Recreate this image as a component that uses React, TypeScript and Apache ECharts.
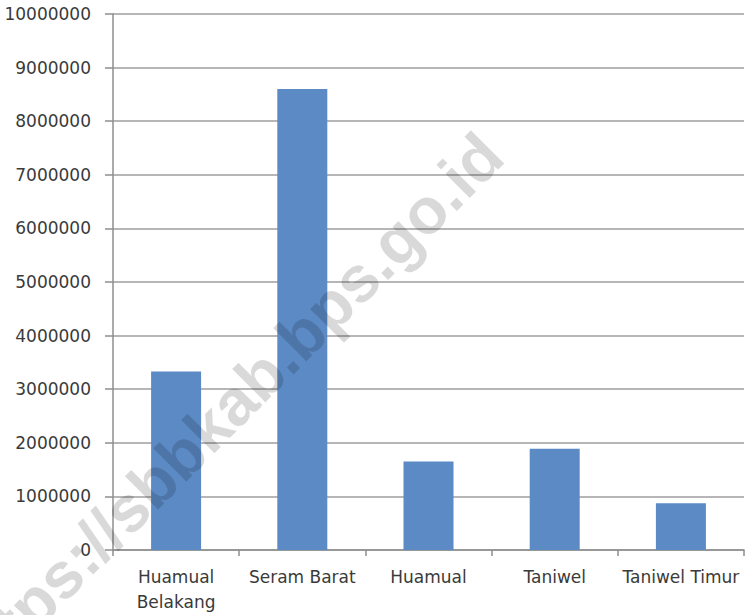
import React, { useEffect, useRef } from "react";
import * as echarts from "echarts";

const categories: string[] = ["Huamual\nBelakang", "Seram Barat", "Huamual", "Taniwel", "Taniwel Timur"];
const values: number[] = [3330000, 8600000, 1650000, 1890000, 870000];
const yMin = 0;
const yMax = 10000000;
const yStep = 1000000;
const watermark = "https://sbbkab.bps.go.id";

export default function App() {
  const ref = useRef<HTMLDivElement>(null);

  useEffect(() => {
    if (!ref.current) return;
    const chart = echarts.init(ref.current, undefined, { renderer: "svg" });
    chart.setOption({
      animation: false,
      backgroundColor: "#ffffff",
      grid: { left: 113, right: 4, top: 14, bottom: 65, containLabel: false },
      xAxis: {
        type: "category",
        data: categories,
        boundaryGap: true,
        axisLine: { show: true, lineStyle: { color: "#8e8e8e", width: 1.5 } },
        axisTick: { show: true, length: 6, lineStyle: { color: "#8e8e8e", width: 1.5 } },
        axisLabel: {
          interval: 0,
          margin: 14,
          color: "#3a3a3a",
          fontFamily: "DejaVu Sans",
          fontSize: 17,
          lineHeight: 25,
        },
        splitLine: { show: false },
      },
      yAxis: {
        type: "value",
        min: yMin,
        max: yMax,
        interval: yStep,
        axisLine: { show: true, lineStyle: { color: "#8e8e8e", width: 1.5 } },
        axisTick: { show: true, length: 8, lineStyle: { color: "#8e8e8e", width: 1.5 } },
        axisLabel: {
          margin: 22,
          color: "#3a3a3a",
          fontFamily: "DejaVu Sans",
          fontSize: 17,
          formatter: (v: number) => String(Math.round(v)),
        },
        splitLine: { show: true, lineStyle: { color: "#9e9e9e", width: 1.5 } },
      },
      series: [
        {
          type: "bar",
          data: values,
          barWidth: 50,
          itemStyle: { color: "#5b8ac5" },
        },
      ],
      graphic: [
        {
          type: "text",
          x: 226,
          y: 410,
          rotation: Math.PI / 4,
          z: 100,
          silent: true,
          style: {
            text: watermark,
            align: "center",
            verticalAlign: "middle",
            fontFamily: "Liberation Sans",
            fontWeight: "bold",
            fontSize: 65,
            fill: "rgba(0,0,0,0.15)",
          },
        },
      ],
    });
    return () => chart.dispose();
  }, []);

  return (
    <div
      ref={ref}
      style={{ position: "fixed", left: 0, top: 0, width: 748, height: 615 }}
    />
  );
}
